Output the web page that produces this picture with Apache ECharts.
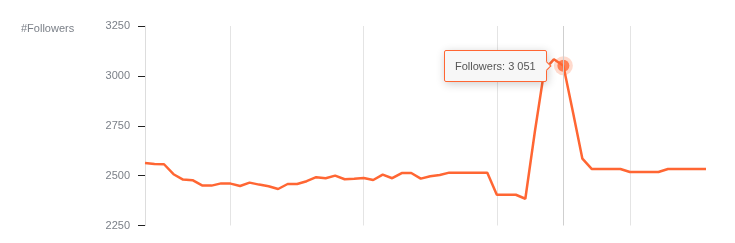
<!DOCTYPE html>
<html>
<head>
<meta charset="utf-8">
<script src="https://cdn.jsdelivr.net/npm/echarts@6/dist/echarts.min.js"></script>
<style>
html,body{margin:0;padding:0;background:#fff;}
#chart{width:735px;height:243px;}
</style>
</head>
<body>
<div id="chart"></div>
<script>
// Day index of each sample (60 days)
const days = [];
for (let i = 0; i < 60; i++) days.push('D' + (i + 1));

// Follower counts
const followers = [
  2563, 2558, 2557, 2507, 2480, 2477, 2451, 2450, 2461, 2460,
  2448, 2465, 2455, 2447, 2433, 2458, 2458, 2472, 2492, 2487,
  2500, 2482, 2484, 2488, 2478, 2505, 2487, 2513, 2513, 2485,
  2497, 2503, 2515, 2515, 2515, 2515, 2515, 2404, 2404, 2404,
  2384, 2720, 3030, 3083, 3051, 2820, 2585, 2533, 2533, 2533,
  2533, 2518, 2518, 2518, 2518, 2533, 2533, 2533, 2533, 2533
];

const yTicks = [2250, 2500, 2750, 3000, 3250];
const gridLineDays = [9, 23, 37, 51];
const highlightIndex = 44;
const seriesName = 'Followers';
const axisTitle = '#Followers';

const color = '#ff6633';
const highlightData = followers.map((v, i) => i === highlightIndex ? v : '-');

function fmt(n) {
  return String(n).replace(/\B(?=(\d{3})+(?!\d))/g, ' ');
}

const chart = echarts.init(document.getElementById('chart'));
chart.setOption({
  animation: false,
  title: {
    text: axisTitle,
    left: 16,
    top: 18,
    textStyle: {fontSize: 11, fontWeight: 'normal', color: '#7a7f87', fontFamily: 'Liberation Sans, Arial, sans-serif'}
  },
  grid: {left: 145, right: 29, top: 26, bottom: 17.5},
  tooltip: {
    trigger: 'item',
    triggerOn: 'none',
    alwaysShowContent: true,
    transitionDuration: 0,
    position: 'left',
    backgroundColor: '#f7f7f7',
    borderColor: color,
    borderWidth: 1,
    borderRadius: 2,
    padding: [8, 10],
    textStyle: {fontSize: 11, color: '#555', fontFamily: 'Liberation Sans, Arial, sans-serif', lineHeight: 14},
    formatter: function (p) { return seriesName + ': ' + fmt(p.value); }
  },
  xAxis: {
    type: 'category',
    data: days,
    boundaryGap: false,
    axisLine: {show: false},
    axisTick: {show: false},
    axisLabel: {show: false},
    splitLine: {
      show: true,
      interval: function (index) { return gridLineDays.indexOf(index) >= 0; },
      lineStyle: {color: '#e4e4e4', width: 1}
    }
  },
  yAxis: {
    type: 'value',
    min: yTicks[0],
    max: yTicks[yTicks.length - 1],
    interval: 250,
    axisLine: {show: true, lineStyle: {color: '#dddddd'}},
    axisTick: {show: true, length: 7, lineStyle: {color: '#222'}},
    axisLabel: {
      margin: 15, fontSize: 11, color: '#7a7f87', fontFamily: 'Liberation Sans, Arial, sans-serif',
      formatter: function (v) { return String(v); }
    },
    splitLine: {show: false}
  },
  series: [
    {
      name: seriesName,
      type: 'line',
      data: followers,
      showSymbol: false,
      silent: true,
      lineStyle: {color: color, width: 2.5},
      itemStyle: {color: color},
      markLine: {
        silent: true,
        symbol: 'none',
        label: {show: false},
        lineStyle: {color: '#cfcfcf', width: 1, type: 'solid'},
        data: [{xAxis: highlightIndex}]
      },
      z: 2
    },
    {
      name: 'halo',
      type: 'scatter',
      data: highlightData,
      symbolSize: 19,
      silent: true,
      itemStyle: {color: 'rgba(255,102,51,0.3)'},
      tooltip: {show: false},
      z: 3
    },
    {
      name: seriesName,
      type: 'scatter',
      data: highlightData,
      symbolSize: 12,
      itemStyle: {color: color},
      z: 4
    }
  ]
});
chart.dispatchAction({type: 'showTip', seriesIndex: 2, dataIndex: highlightIndex});
</script>
</body>
</html>
